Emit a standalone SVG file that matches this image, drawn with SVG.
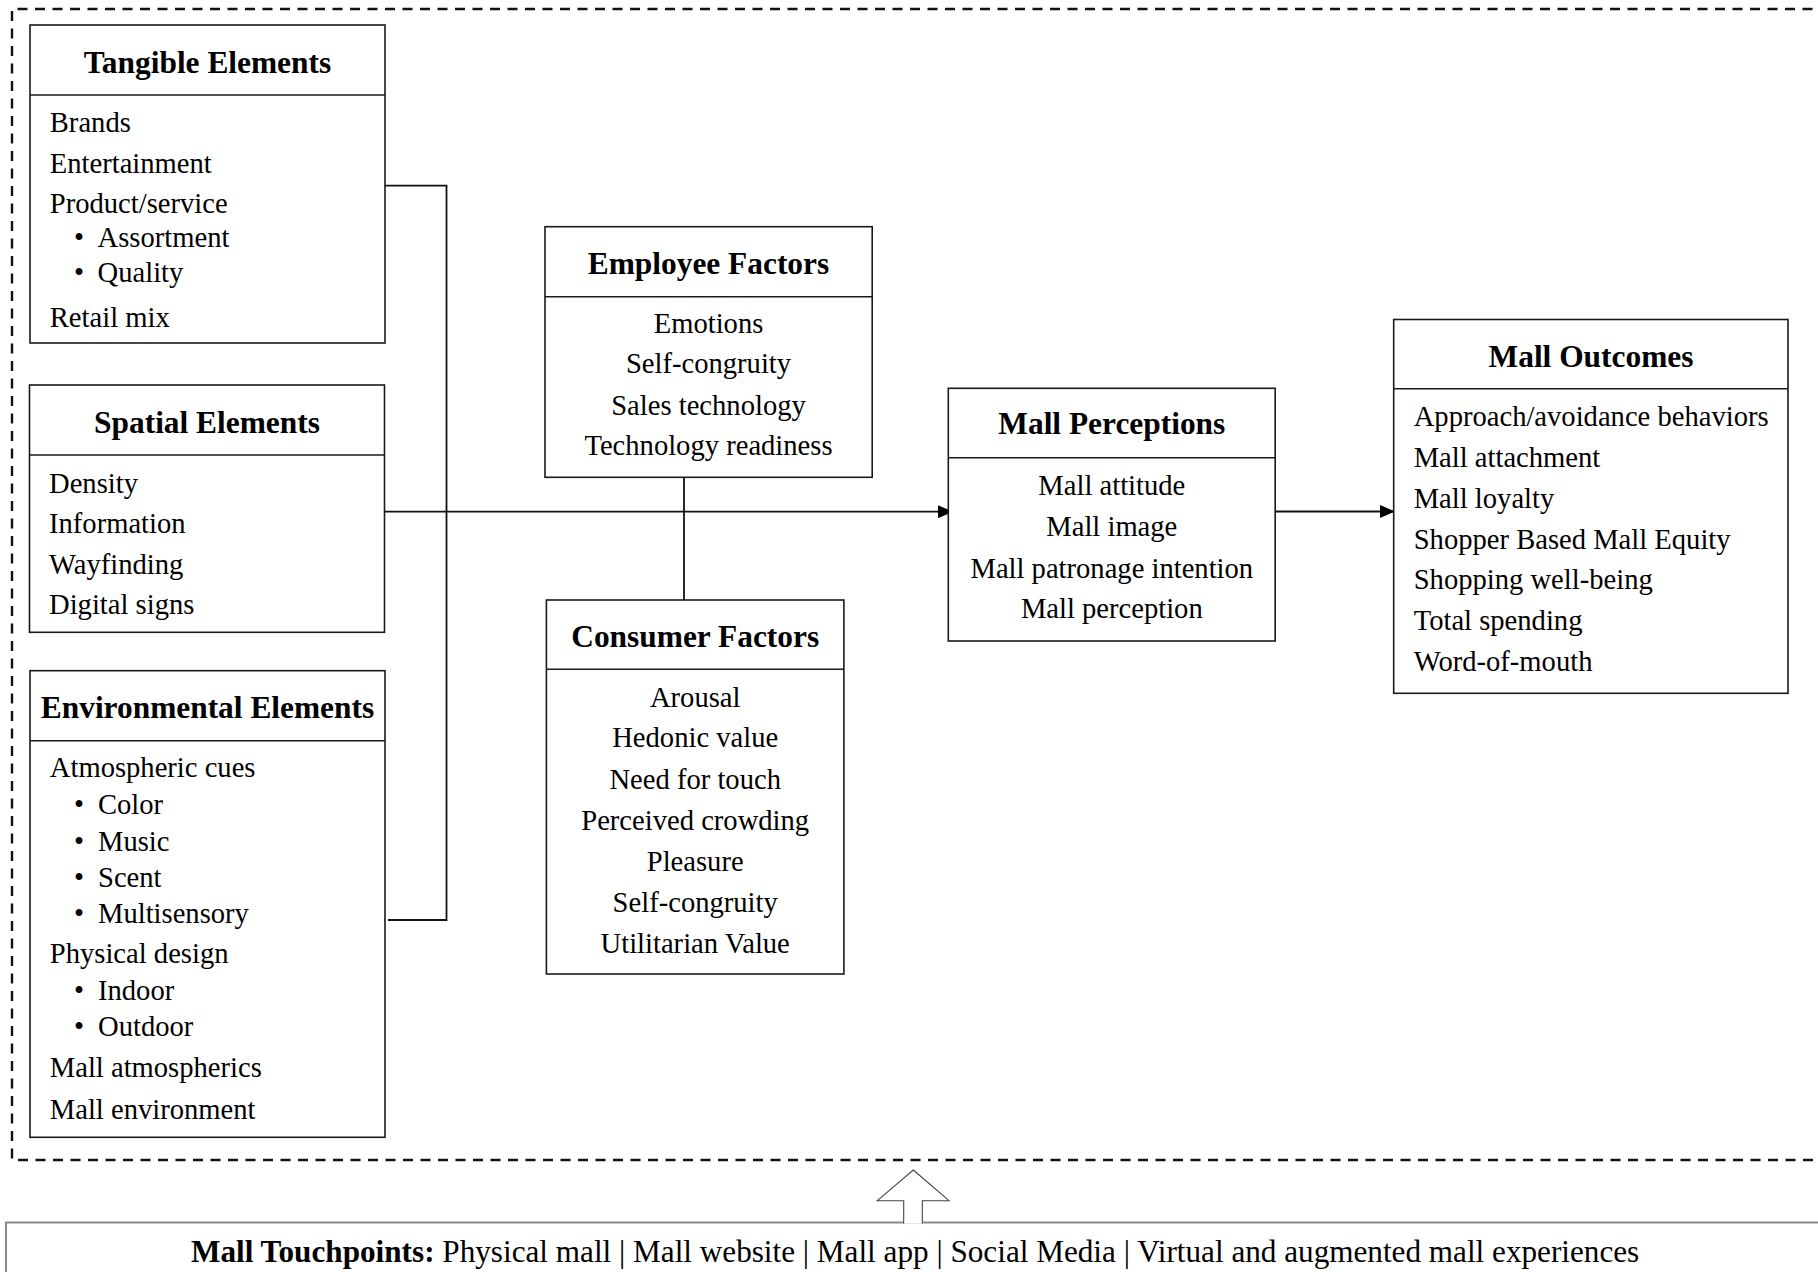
<svg xmlns="http://www.w3.org/2000/svg" width="1818" height="1272" viewBox="0 0 1818 1272">
<style>
text{font-family:"Liberation Serif","Times New Roman",serif;fill:#000}
.t{font-size:31.4px;font-weight:bold;text-anchor:middle}
.b{font-size:28.6px}
.c{font-size:28.6px;text-anchor:middle}
.box{fill:#fff;stroke:#1a1a1a;stroke-width:1.6}
.div{stroke:#1a1a1a;stroke-width:1.6}
.con{stroke:#111;stroke-width:1.8;fill:none}
</style>
<defs>
<marker id="ah" viewBox="0 0 15 13" refX="15" refY="6.5" markerWidth="15" markerHeight="13" markerUnits="userSpaceOnUse" orient="auto">
<path d="M0,0 L15,6.5 L0,13 z" fill="#000"/>
</marker>
</defs>
<rect width="1818" height="1272" fill="#fff"/>
<g id="frame">
<path d="M1830,9 H12 V1160 H1830" fill="none" stroke="#111" stroke-width="2.4" stroke-dasharray="10 7.5"/>
</g>
<g id="connectors">
<polyline class="con" points="385,185.7 446.5,185.7 446.5,920 388,920"/>
<line class="con" x1="385" y1="511.7" x2="953" y2="511.7" marker-end="url(#ah)"/>
<line class="con" x1="684" y1="477" x2="684" y2="600"/>
<line class="con" x1="1275" y1="511.5" x2="1395" y2="511.5" marker-end="url(#ah)"/>
</g>
<g id="tangible">
<rect class="box" x="30" y="25" width="355" height="318"/>
<line class="div" x1="30" y1="95" x2="385" y2="95"/>
<text class="t" x="207.5" y="72.5">Tangible Elements</text>
<text class="b" x="49.8" y="131.5">Brands</text>
<text class="b" x="49.8" y="172.5">Entertainment</text>
<text class="b" x="49.8" y="213">Product/service</text>
<text class="b" x="74" y="246.5">•</text><text class="b" x="97.6" y="246.5">Assortment</text>
<text class="b" x="74" y="282">•</text><text class="b" x="97.6" y="282">Quality</text>
<text class="b" x="49.8" y="326.5">Retail mix</text>
</g>
<g id="spatial">
<rect class="box" x="29.5" y="385" width="355" height="247.3"/>
<line class="div" x1="29.5" y1="455" x2="384.5" y2="455"/>
<text class="t" x="207" y="432.5">Spatial Elements</text>
<text class="b" x="49" y="492.5">Density</text>
<text class="b" x="49" y="533">Information</text>
<text class="b" x="49" y="573.5">Wayfinding</text>
<text class="b" x="49" y="614">Digital signs</text>
</g>
<g id="environmental">
<rect class="box" x="30" y="670.7" width="355" height="466.6"/>
<line class="div" x1="30" y1="740.7" x2="385" y2="740.7"/>
<text class="t" x="207.5" y="717.5">Environmental Elements</text>
<text class="b" x="49.8" y="776.5">Atmospheric cues</text>
<text class="b" x="74" y="813.5">•</text><text class="b" x="98" y="813.5">Color</text>
<text class="b" x="74" y="850.5">•</text><text class="b" x="98" y="850.5">Music</text>
<text class="b" x="74" y="886.5">•</text><text class="b" x="98" y="886.5">Scent</text>
<text class="b" x="74" y="922.5">•</text><text class="b" x="98" y="922.5">Multisensory</text>
<text class="b" x="49.8" y="963">Physical design</text>
<text class="b" x="74" y="1000">•</text><text class="b" x="98" y="1000">Indoor</text>
<text class="b" x="74" y="1036">•</text><text class="b" x="98" y="1036">Outdoor</text>
<text class="b" x="49.8" y="1076.5">Mall atmospherics</text>
<text class="b" x="49.8" y="1118.5">Mall environment</text>
</g>
<g id="employee">
<rect class="box" x="545" y="226.7" width="327.2" height="250.6"/>
<line class="div" x1="545" y1="296.7" x2="872.2" y2="296.7"/>
<text class="t" x="708.5" y="273.5">Employee Factors</text>
<text class="c" x="708.5" y="332.5">Emotions</text>
<text class="c" x="708.5" y="373">Self-congruity</text>
<text class="c" x="708.5" y="414.5">Sales technology</text>
<text class="c" x="708.5" y="455">Technology readiness</text>
</g>
<g id="consumer">
<rect class="box" x="546.4" y="600" width="297.5" height="374"/>
<line class="div" x1="546.4" y1="669.3" x2="843.9" y2="669.3"/>
<text class="t" x="695.2" y="646.5">Consumer Factors</text>
<text class="c" x="695.2" y="706.8">Arousal</text>
<text class="c" x="695.2" y="747.4">Hedonic value</text>
<text class="c" x="695.2" y="788.5">Need for touch</text>
<text class="c" x="695.2" y="829.7">Perceived crowding</text>
<text class="c" x="695.2" y="871">Pleasure</text>
<text class="c" x="695.2" y="912">Self-congruity</text>
<text class="c" x="695.2" y="952.5">Utilitarian Value</text>
</g>
<g id="perceptions">
<rect class="box" x="948.3" y="388.3" width="326.9" height="252.7"/>
<line class="div" x1="948.3" y1="457.7" x2="1275.2" y2="457.7"/>
<text class="t" x="1111.8" y="434">Mall Perceptions</text>
<text class="c" x="1111.8" y="495">Mall attitude</text>
<text class="c" x="1111.8" y="536.2">Mall image</text>
<text class="c" x="1111.8" y="577.5">Mall patronage intention</text>
<text class="c" x="1111.8" y="618.3">Mall perception</text>
</g>
<g id="outcomes">
<rect class="box" x="1393.7" y="319.5" width="394.3" height="373.8"/>
<line class="div" x1="1393.7" y1="388.7" x2="1788" y2="388.7"/>
<text class="t" x="1591" y="366.5">Mall Outcomes</text>
<text class="b" x="1413.7" y="426">Approach/avoidance behaviors</text>
<text class="b" x="1413.7" y="467">Mall attachment</text>
<text class="b" x="1413.7" y="507.7">Mall loyalty</text>
<text class="b" x="1413.7" y="548.7">Shopper Based Mall Equity</text>
<text class="b" x="1413.7" y="589.3">Shopping well-being</text>
<text class="b" x="1413.7" y="630.3">Total spending</text>
<text class="b" x="1413.7" y="671">Word-of-mouth</text>
</g>
<g id="touchpoints">
<path d="M1830,1222.5 H6 V1280" fill="none" stroke="#8a8a8a" stroke-width="2"/>
<polygon points="913.3,1170 949,1200.7 922.3,1200.7 922.3,1223 903.7,1223 903.7,1200.7 877.3,1200.7" fill="#fff" stroke="#444" stroke-width="1.1"/>
<line x1="904.3" y1="1222.5" x2="921.7" y2="1222.5" stroke="#fff" stroke-width="2.6"/>
<text x="191" y="1261.5" style="font-size:31.2px"><tspan font-weight="bold">Mall Touchpoints:</tspan> Physical mall | Mall website | Mall app | Social Media | Virtual and augmented mall experiences</text>
</g>
</svg>
